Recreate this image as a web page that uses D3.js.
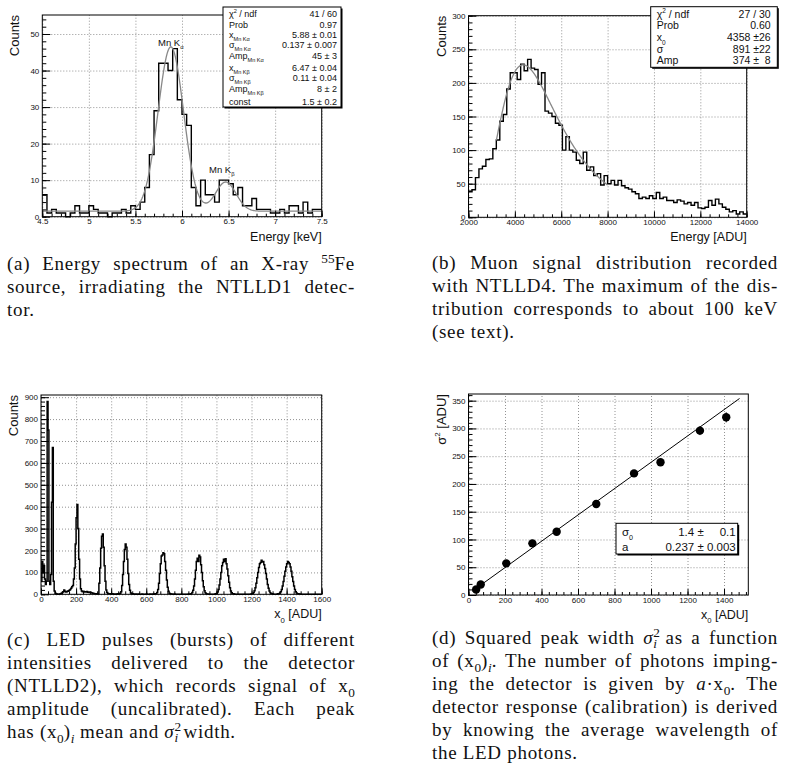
<!DOCTYPE html>
<html>
<head>
<meta charset="utf-8">
<script src="https://cdn.jsdelivr.net/npm/d3@7"></script>
<style>
  body { margin: 0; background: #fff; }
  #fig { position: relative; width: 791px; height: 775px; overflow: hidden; }
  #fig svg { position: absolute; left: 0; top: 0; }
  .grid line { stroke: #777; stroke-width: 0.8; stroke-dasharray: 1 2; }
  .grid path, .tk path { display: none; }
  .tk line { stroke: #000; stroke-width: 1; }
  .tk text { font-family: "Liberation Sans", Arial, sans-serif; font-size: 8px; fill: #111; }
  .rt { font-family: "Liberation Sans", Arial, sans-serif; fill: #111; }
  .cap { position: absolute; font-family: "Liberation Serif", "Times New Roman", serif; font-size: 19px; letter-spacing: 0.7px; line-height: 23px; color: #111; }
  .cap div { position: absolute; left: 0; white-space: nowrap; }
  .cap sup, .cap sub { line-height: 0; font-size: 0.7em; letter-spacing: 0; }
  .cap .ssub { margin-left: -0.5em; }
</style>
</head>
<body>
<div id="fig"></div>
<script>
// (a) 55Fe spectrum, 0.05 keV bins starting at 4.5 keV
const specStart = 4.5, specBin = 0.05;
const specCounts = [6, 1, 2, 1, 1, 0, 1, 3, 1, 1,
                    3, 2, 1, 1, 0, 1, 1, 2, 1, 3,
                    2, 4, 8, 17, 29, 42, 42, 40, 46, 32,
                    28, 25, 8, 3, 10, 6, 6, 4, 10, 10,
                    9, 6, 8, 3, 3, 5, 2, 2, 2, 1,
                    1, 2, 1, 3, 3, 1, 4, 1, 2, 2];
const specFit = [1.5, 45, 5.88, 0.137, 8, 6.47, 0.11]; // const, Amp/x/sigma Ka, Amp/x/sigma Kb
const specTicksX = [4.5, 5, 5.5, 6, 6.5, 7, 7.5];
const specTicksY = [0, 10, 20, 30, 40, 50];
const specStatNames = ["#chi^{2} / ndf", "Prob", "x_{Mn K#alpha}", "#sigma_{Mn K#alpha}", "Amp_{Mn K#alpha}",
                       "x_{Mn K#beta}", "#sigma_{Mn K#beta}", "Amp_{Mn K#beta}", "const"];
const specStatValues = ["41 / 60", "0.97", "5.88 ± 0.01", "0.137 ± 0.007", "45 ± 3",
                        "6.47 ± 0.04", "0.11 ± 0.04", "8 ± 2", "1.5 ± 0.2"];

// (b) muon signal, 150 ADU bins starting at 2000
const muonStart = 2000, muonBin = 150;
const muonCounts = [38, 41, 59, 72, 76, 86, 87, 102, 115, 143,
                    153, 191, 215, 215, 205, 228, 218, 235, 222, 220,
                    198, 215, 158, 155, 150, 140, 137, 100, 120, 100,
                    97, 85, 80, 97, 70, 75, 62, 65, 48, 62,
                    50, 55, 48, 55, 47, 44, 42, 38, 35, 28,
                    30, 28, 32, 28, 37, 28, 30, 25, 25, 22,
                    26, 24, 20, 22, 18, 22, 14, 13, 15, 25,
                    18, 27, 20, 15, 12, 8, 10, 5, 8, 5];
const muonFit = [4358, 891, 374]; // x0, sigma, Amp (Moyal)
const muonFitRange = [3200, 8000];
const muonTicksX = [2000, 4000, 6000, 8000, 10000, 12000, 14000];
const muonTicksY = [0, 50, 100, 150, 200, 250, 300];
const muonStatNames = ["#chi^{2} / ndf", "Prob", "x_{0}", "#sigma", "Amp"];
const muonStatValues = ["27 / 30", "0.60", "4358 ±26", "891 ±22", "374 ±  8"];

// (c) LED bursts, 5 ADU bins from 0
const ledStart = 0, ledBin = 5;
const ledCounts = [
  60, 150, 100, 130, 70, 45, 60, 880, 750, 60, 45, 90, 420, 670, 60, 15, 5, 2, 1, 0,
  0, 1, 3, 5, 8, 12, 20, 14, 10, 12, 14, 16, 18, 22, 28, 35,
  40, 70, 120, 230, 350, 410, 300, 160, 70, 25, 15,
  12, 14, 10, 12, 11, 13, 9, 10, 8, 9, 7, 6, 5, 4, 3, 2, 2, 1, 1,
  50, 120, 210, 265, 275, 215, 130, 60, 20, 8, 4,
  3, 2, 3, 1, 2, 1, 0, 1, 0, 1, 2, 1, 3, 5,
  12, 40, 90, 150, 205, 230, 215, 160, 95, 45, 18, 6,
  3, 2, 1, 1, 0, 1, 0, 0, 1, 0, 0, 0, 1, 0, 0, 0, 0, 1, 0, 0, 0, 1, 0, 0, 1, 0, 1, 2, 3,
  8, 22, 50, 95, 140, 175, 180, 190, 185, 150, 110, 65, 32, 14, 5,
  2, 1, 1, 0, 0, 1, 0, 0, 0, 0, 0, 0, 0, 0, 0, 0, 0, 0, 0, 0, 0, 1, 0, 1, 3,
  8, 18, 38, 70, 110, 150, 165, 150, 178, 170, 135, 100, 62, 35, 16, 7, 3,
  1, 1, 0, 0, 0, 0, 0, 0, 0, 1, 2,
  4, 10, 22, 42, 70, 100, 130, 145, 160, 150, 162, 140, 115, 85, 55, 30, 15, 7, 3,
  2, 1, 0, 0, 0, 0, 0, 0, 0, 0, 0, 0, 0, 0, 0, 0, 0, 0, 0, 0, 1, 2,
  3, 8, 16, 30, 50, 75, 100, 122, 140, 145, 155, 148, 150, 135, 118, 95, 70, 45, 28, 15, 7, 3,
  2, 1, 0, 0, 0, 0, 1, 2,
  3, 6, 12, 22, 38, 58, 82, 105, 125, 140, 150, 145, 140, 125, 105, 80, 58, 38, 22, 12, 6, 3,
  2, 1, 1, 0, 0, 0, 0, 0, 0, 0, 0, 0, 0, 0, 0, 0, 0, 0, 0, 0, 0, 0, 0, 0, 0, 0, 0];
const ledTicksX = [0, 200, 400, 600, 800, 1000, 1200, 1400, 1600];
const ledTicksY = [0, 100, 200, 300, 400, 500, 600, 700, 800, 900];

// (d) peak width vs position
const peakX0 = [42, 67, 207, 350, 483, 700, 907, 1052, 1268, 1412];
const peakSigma2 = [10, 19, 57, 93, 114, 164, 219, 239, 296, 320];
const peakErr = [1, 1.5, 2.5, 3.5, 4, 5, 6, 6.5, 8, 9];
const calibFit = [1.4, 0.237]; // sigma0, a
const calibFitRange = [20, 1485];
const calibTicksX = [0, 200, 400, 600, 800, 1000, 1200, 1400];
const calibTicksY = [0, 50, 100, 150, 200, 250, 300, 350];
const calibStatNames = ["#sigma_{0}", "a"];
const calibStatValues = ["1.4 ±     0.1", "0.237 ± 0.003"];

const svg = d3.select("#fig").append("svg").attr("width", 791).attr("height", 775);

function greek(s) {
  return s.replace(/#alpha/g, "α").replace(/#beta/g, "β").replace(/#chi/g, "χ").replace(/#sigma/g, "σ");
}

// tiny ROOT-latex: handles _{..} and ^{..}
function rootText(sel, str, fs) {
  const parts = str.split(/([_^]\{[^}]*\})/).filter(s => s.length);
  let shift = 0;
  parts.forEach(s => {
    let t = s, size = fs, d = 0;
    if (s[0] === "_" || s[0] === "^") {
      t = s.slice(2, -1);
      size = fs * 0.62;
      d = s[0] === "_" ? fs * 0.35 : -fs * 0.42;
    }
    sel.append("tspan").attr("font-size", size).attr("dy", d - shift).text(greek(t));
    shift = d;
  });
  return sel;
}

function panel(p) {
  const x = d3.scaleLinear().domain(p.xDom).range([p.l, p.r]);
  const y = d3.scaleLinear().domain(p.yDom).range([p.b, p.t]);
  const w = p.r - p.l, h = p.b - p.t;
  const g = svg.append("g");
  g.append("g").attr("class", "grid").attr("transform", `translate(0,${p.b})`)
    .call(d3.axisBottom(x).tickValues(p.xTicks).tickSize(-h).tickFormat(""));
  g.append("g").attr("class", "grid").attr("transform", `translate(${p.l},0)`)
    .call(d3.axisLeft(y).tickValues(p.yTicks).tickSize(-w).tickFormat(""));
  const plot = g.append("g");
  const xMinor = d3.range(p.xDom[0], p.xDom[1] + 1e-9, p.xMinor);
  const yMinor = d3.range(p.yDom[0], p.yDom[1] + 1e-9, p.yMinor);
  g.append("g").attr("class", "tk").attr("transform", `translate(0,${p.b})`)
    .call(d3.axisBottom(x).tickValues(xMinor).tickSize(-3).tickFormat(""));
  g.append("g").attr("class", "tk").attr("transform", `translate(0,${p.b})`)
    .call(d3.axisBottom(x).tickValues(p.xTicks).tickSize(-6).tickPadding(2).tickFormat(d => d));
  g.append("g").attr("class", "tk").attr("transform", `translate(${p.l},0)`)
    .call(d3.axisLeft(y).tickValues(yMinor).tickSize(-4).tickFormat(""));
  g.append("g").attr("class", "tk").attr("transform", `translate(${p.l},0)`)
    .call(d3.axisLeft(y).tickValues(p.yTicks).tickSize(-8).tickPadding(3).tickFormat(d => d));
  g.append("rect").attr("x", p.l).attr("y", p.t).attr("width", w).attr("height", h)
    .attr("fill", "none").attr("stroke", "#000").attr("stroke-width", 1);
  // axis titles
  rootText(g.append("text").attr("class", "rt").attr("text-anchor", "end")
    .attr("x", p.r).attr("y", p.b + 24), p.xTitle, 12.5);
  rootText(g.append("text").attr("class", "rt").attr("text-anchor", "end")
    .attr("transform", `translate(${p.l - 23},${p.t}) rotate(-90)`), p.yTitle, 13);
  return {x, y, g, plot};
}

function histPath(x, y, start, bin, vals) {
  const pts = vals.map((v, i) => [start + i * bin, v]);
  pts.push([start + vals.length * bin, vals[vals.length - 1]]);
  return d3.line().x(d => x(d[0])).y(d => y(d[1])).curve(d3.curveStepAfter)(pts);
}

function statsBox(g, box, names, values, rows, fs) {
  g.append("rect").attr("x", box.x + 1.5).attr("y", box.y + 1.5).attr("width", box.w).attr("height", box.h).attr("fill", "#000");
  g.append("rect").attr("x", box.x).attr("y", box.y).attr("width", box.w).attr("height", box.h)
    .attr("fill", "#fff").attr("stroke", "#000").attr("stroke-width", 1);
  names.forEach((n, i) => {
    rootText(g.append("text").attr("class", "rt").attr("x", box.x + box.padL).attr("y", rows[i]), n, fs);
    g.append("text").attr("class", "rt").attr("x", box.x + box.w - box.padR).attr("y", rows[i])
      .attr("text-anchor", "end").attr("font-size", fs).style("white-space", "pre").text(values[i]);
  });
}

// ---------- (a) ----------
const A = panel({l: 42.3, r: 321.7, t: 15, b: 216.7, xDom: [4.5, 7.5], yDom: [0, 55.2],
  xTicks: specTicksX, yTicks: specTicksY, xMinor: 0.1, yMinor: 2,
  xTitle: "Energy [keV]", yTitle: "Counts"});
A.plot.append("path").attr("d", histPath(A.x, A.y, specStart, specBin, specCounts))
  .attr("fill", "none").attr("stroke", "#000").attr("stroke-width", 1.4);
const specCurve = d3.range(4.5, 7.5001, 0.01).map(e => {
  const [c, a1, m1, s1, a2, m2, s2] = specFit;
  return [e, c + a1 * Math.exp(-0.5 * ((e - m1) / s1) ** 2) + a2 * Math.exp(-0.5 * ((e - m2) / s2) ** 2)];
});
A.plot.append("path").attr("d", d3.line().x(d => A.x(d[0])).y(d => A.y(d[1]))(specCurve))
  .attr("fill", "none").attr("stroke", "#888").attr("stroke-width", 1.3);
rootText(A.g.append("text").attr("class", "rt").attr("x", 158).attr("y", 46), "Mn K_{#alpha}", 9.5);
rootText(A.g.append("text").attr("class", "rt").attr("x", 209).attr("y", 173), "Mn K_{#beta}", 9.5);
statsBox(A.g, {x: 223, y: 7, w: 118, h: 100, padL: 6, padR: 4}, specStatNames, specStatValues,
  [16.5, 27.5, 37.5, 47.5, 59, 70.5, 80.5, 91.5, 105], 9);

// ---------- (b) ----------
const B = panel({l: 468.5, r: 746.7, t: 15.7, b: 217.3, xDom: [2000, 14000], yDom: [0, 300],
  xTicks: muonTicksX, yTicks: muonTicksY, xMinor: 400, yMinor: 10,
  xTitle: "Energy [ADU]", yTitle: "Counts"});
B.plot.append("path").attr("d", histPath(B.x, B.y, muonStart, muonBin, muonCounts))
  .attr("fill", "none").attr("stroke", "#000").attr("stroke-width", 1.4);
const muonCurve = d3.range(muonFitRange[0], muonFitRange[1] + 1, 20).map(v => {
  const l = (v - muonFit[0]) / muonFit[1];
  return [v, muonFit[2] * Math.exp(-0.5 * (l + Math.exp(-l)))];
});
B.plot.append("path").attr("d", d3.line().x(d => B.x(d[0])).y(d => B.y(d[1]))(muonCurve))
  .attr("fill", "none").attr("stroke", "#888").attr("stroke-width", 1.3);
statsBox(B.g, {x: 650.7, y: 6.7, w: 126.6, h: 60.6, padL: 6, padR: 6.6}, muonStatNames, muonStatValues,
  [17.5, 29, 41, 52.5, 64], 10.5);

// ---------- (c) ----------
const C = panel({l: 41, r: 321.7, t: 395, b: 594.3, xDom: [0, 1600], yDom: [0, 910],
  xTicks: ledTicksX, yTicks: ledTicksY, xMinor: 40, yMinor: 20,
  xTitle: "x_{0} [ADU]", yTitle: "Counts"});
C.plot.append("path").attr("d", histPath(C.x, C.y, ledStart, ledBin, ledCounts))
  .attr("fill", "none").attr("stroke", "#000").attr("stroke-width", 1.5);

// ---------- (d) ----------
const D = panel({l: 468.5, r: 748.3, t: 394, b: 595, xDom: [0, 1533], yDom: [0, 362],
  xTicks: calibTicksX, yTicks: calibTicksY, xMinor: 40, yMinor: 10,
  xTitle: "x_{0} [ADU]", yTitle: "#sigma^{2} [ADU]"});
const fitLine = calibFitRange.map(v => [v, calibFit[0] ** 2 + calibFit[1] * v]);
D.plot.append("path").attr("d", d3.line().x(d => D.x(d[0])).y(d => D.y(d[1]))(fitLine))
  .attr("fill", "none").attr("stroke", "#000").attr("stroke-width", 1);
D.plot.selectAll("line.err").data(peakX0).join("line").attr("class", "err")
  .attr("x1", d => D.x(d)).attr("x2", d => D.x(d))
  .attr("y1", (d, i) => D.y(peakSigma2[i] - peakErr[i])).attr("y2", (d, i) => D.y(peakSigma2[i] + peakErr[i]))
  .attr("stroke", "#000").attr("stroke-width", 1);
D.plot.selectAll("circle").data(peakX0).join("circle")
  .attr("cx", d => D.x(d)).attr("cy", (d, i) => D.y(peakSigma2[i])).attr("r", 4.2).attr("fill", "#000");
statsBox(D.g, {x: 616, y: 523.3, w: 121.7, h: 30.7, padL: 6, padR: 2}, calibStatNames, calibStatValues,
  [535.5, 550.5], 11.5);

// ---------- captions ----------
function caption(left, top, width, lines) {
  const div = d3.select("#fig").append("div").attr("class", "cap")
    .style("left", left + "px").style("top", top + "px").style("width", width + "px");
  lines.forEach((ln, i) => {
    const row = div.append("div").style("top", (i * 23) + "px");
    const sp = row.append("span").html(ln);
    if (i < lines.length - 1) {
      const w = sp.node().getBoundingClientRect().width;
      const n = (sp.node().textContent.match(/ /g) || []).length;
      if (n) sp.style("word-spacing", ((width - w) / n) + "px");
    }
  });
}
const sig2i = "<i>σ</i><sup>2</sup><sub class='ssub'><i>i</i></sub>";
const x0i = "(x<sub>0</sub>)<sub><i>i</i></sub>";
caption(7, 251.5, 348, [
  "(a) Energy spectrum of an X-ray <sup>55</sup>Fe",
  "source, irradiating the NTLLD1 detec-",
  "tor."]);
caption(432, 250.5, 346, [
  "(b) Muon signal distribution recorded",
  "with NTLLD4. The maximum of the dis-",
  "tribution corresponds to about 100 keV",
  "(see text)."]);
caption(7, 627.5, 348, [
  "(c) LED pulses (bursts) of different",
  "intensities delivered to the detector",
  "(NTLLD2), which records signal of x<sub>0</sub>",
  "amplitude (uncalibrated). Each peak",
  "has " + x0i + " mean and " + sig2i + " width."]);
caption(432, 625.5, 346, [
  "(d) Squared peak width " + sig2i + " as a function",
  "of " + x0i + ". The number of photons imping-",
  "ing the detector is given by <i>a</i>·x<sub>0</sub>. The",
  "detector response (calibration) is derived",
  "by knowing the average wavelength of",
  "the LED photons."]);
</script>
</body>
</html>
